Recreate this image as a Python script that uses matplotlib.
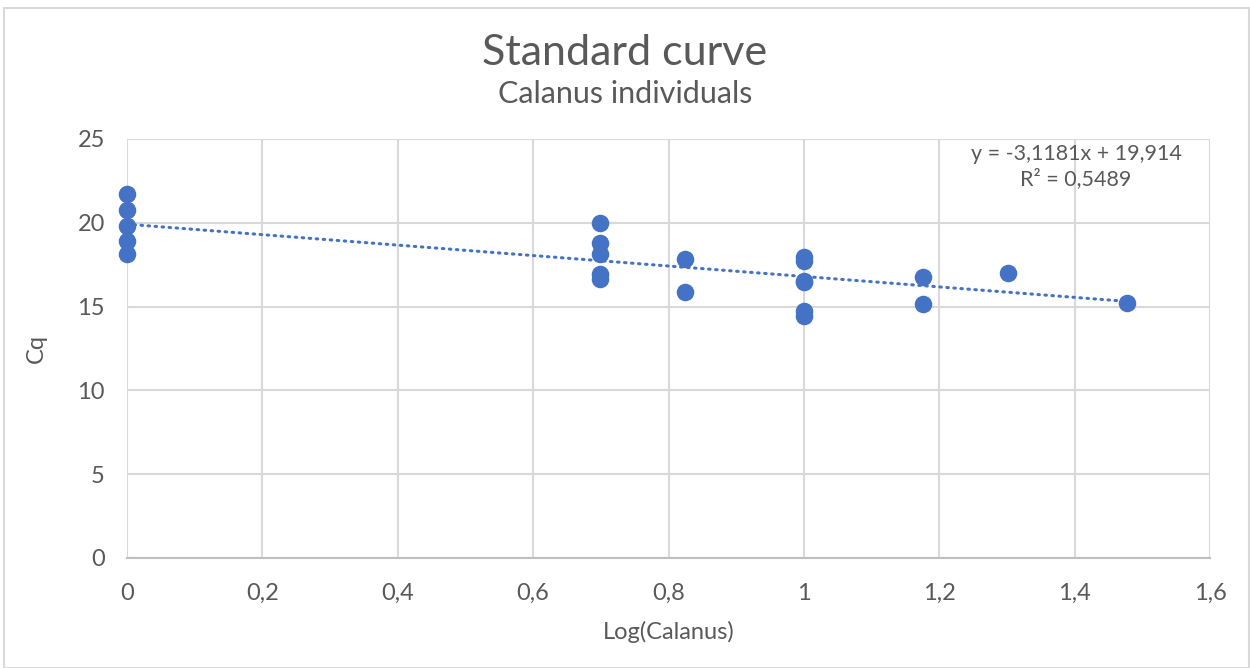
import numpy as np
import matplotlib.pyplot as plt
from matplotlib.patches import Rectangle

plt.rcParams['font.family'] = ['Lato', 'DejaVu Sans']

# data
log_calanus = [0, 0, 0, 0, 0,
               0.699, 0.699, 0.699, 0.699, 0.699,
               0.824, 0.824,
               1, 1, 1, 1, 1, 1,
               1.176, 1.176,
               1.301,
               1.477]
cq = [21.72, 20.76, 19.81, 18.91, 18.14,
      19.98, 18.79, 18.14, 16.95, 16.65,
      17.84, 15.89,
      17.96, 17.70, 16.55, 16.45, 14.74, 14.44,
      16.78, 15.15,
      17.02,
      15.20]
slope = -3.1181
intercept = 19.914
r2 = 0.5489

xticks = [0, 0.2, 0.4, 0.6, 0.8, 1, 1.2, 1.4, 1.6]
yticks = [0, 5, 10, 15, 20, 25]

blue = '#4472C4'
txt = '#595959'

fig = plt.figure(figsize=(12.5, 6.68), dpi=100)
fig.patches.append(Rectangle((0.003, 0.0), 0.996, 0.988, transform=fig.transFigure,
                             fill=False, edgecolor='#d9d9d9', lw=1.5))
ax = fig.add_axes([0.1016, 0.1647, 0.8664, 0.6273])

ax.set_xlim(0, 1.6)
ax.set_ylim(0, 25)
ax.set_xticks(xticks)
ax.set_yticks(yticks)
ax.set_xticklabels([('%g' % t).replace('.', ',') for t in xticks])
ax.grid(True, color='#d9d9d9', lw=1.5)
ax.set_axisbelow(True)
for s in ['top', 'right', 'left']:
    ax.spines[s].set_visible(False)
ax.spines['bottom'].set_color('#bfbfbf')
ax.spines['bottom'].set_linewidth(1.5)
ax.tick_params(length=0, labelsize=17, labelcolor=txt)
ax.tick_params(axis='x', pad=18)
ax.tick_params(axis='y', pad=16)

# trendline
xl = np.array([0, max(log_calanus)])
ax.plot(xl, slope * xl + intercept, color=blue, lw=2.2, linestyle=(0, (0.5, 1.8)),
        dash_capstyle='round', zorder=2)

ax.scatter(log_calanus, cq, s=135, color=blue, zorder=3, clip_on=False)

eq = 'y = %s x + %s' % (('%g' % slope).replace('.', ','), ('%g' % intercept).replace('.', ','))
eq = eq.replace(' x', 'x')
ax.text(1.402, 24.7, eq + '\nR² = ' + ('%g' % r2).replace('.', ','), ha='center', va='top',
        fontsize=15.5, color=txt, linespacing=1.25)

ax.set_xlabel('Log(Calanus)', fontsize=17, color=txt, labelpad=12)
ax.set_ylabel('Cq', fontsize=17, color=txt, labelpad=22)

fig.text(0.5, 0.92, 'Standard curve', ha='center', va='center', fontsize=31, color=txt)
fig.text(0.5, 0.86, 'Calanus individuals', ha='center', va='center', fontsize=22, color=txt)

fig.savefig('out.png', dpi=100)
